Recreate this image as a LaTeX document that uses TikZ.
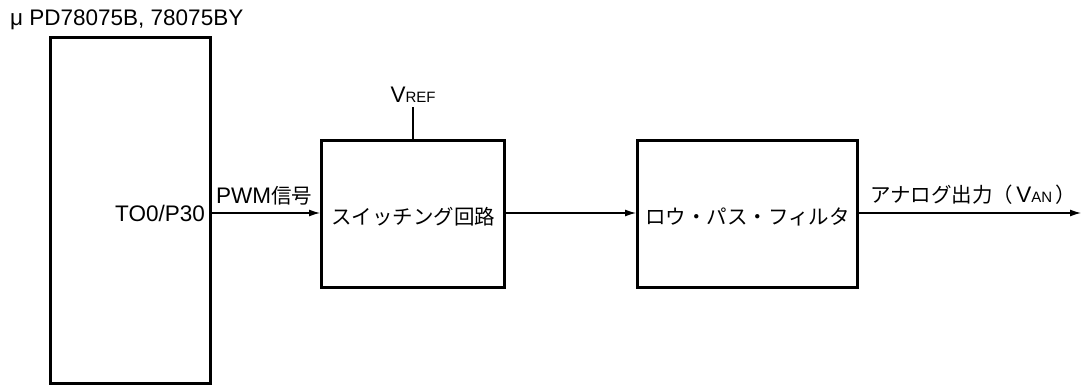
\documentclass[tikz,border=0pt]{standalone}
\usepackage{fontspec}
\setmainfont{Liberation Sans}
\newfontfamily\jp{Noto Sans CJK JP}
\usetikzlibrary{arrows.meta}
\tikzset{
  blk/.style={draw, line width=3pt, inner sep=0pt},
  sig/.style={line width=1.2pt, -{Latex[length=11pt,width=7pt]}},
  lbl/.style={inner sep=0pt, font=\fontsize{22.5}{27}\selectfont},
  jl/.style={inner sep=0pt, font=\fontsize{20.5}{24}\selectfont\jp},
}
\newcommand{\smc}[1]{{\fontsize{15}{18}\selectfont #1}}
\begin{document}
\begin{tikzpicture}[x=1pt,y=-1pt]
\useasboundingbox (0,0) rectangle (1082,388);
\node[lbl, anchor=west] (title) at (10,20) {μ PD78075B, 78075BY};
\node[blk, minimum width=160pt, minimum height=346pt] (mcu) at (130,210) {};
\node[lbl, anchor=east] (to) at (205,213) {TO0/P30};
\coordinate (mcuout) at (210,213);
\node[blk, minimum width=183pt, minimum height=147pt] (sw) at (413,213.5) {};
\node[jl] (swt) at (413,217) {スイッチング回路};
\node[blk, minimum width=220pt, minimum height=147pt] (lpf) at (747.5,213.5) {};
\node[jl] (lpft) at (747.5,217) {ロウ・パス・フィルタ};
\node[lbl] (vref) at (413,95) {V\smc{REF}};
\coordinate (vreftop) at (413,107);
\draw[line width=1.2pt] (vreftop) -- (sw.north);
\draw[sig] (mcuout) -- (sw.west |- mcuout);
\node[anchor=south west, inner sep=0pt] (pwm) at (216,205) {\fontsize{22.5}{27}\selectfont PWM{\jp\fontsize{20.5}{24}\selectfont 信号}};
\draw[sig] (sw.east |- mcuout) -- (lpf.west |- mcuout);
\coordinate (outend) at (1081,213);
\draw[sig] (lpf.east |- mcuout) -- (outend);
\node[anchor=south west, inner sep=0pt] (aout) at (870,205) {{\jp\fontsize{20.5}{24}\selectfont アナログ出力（}\fontsize{22.5}{27}\selectfont\hspace{3pt}V\smc{AN}\hspace{3pt}{\jp\fontsize{20.5}{24}\selectfont ）}};
\end{tikzpicture}
\end{document}
